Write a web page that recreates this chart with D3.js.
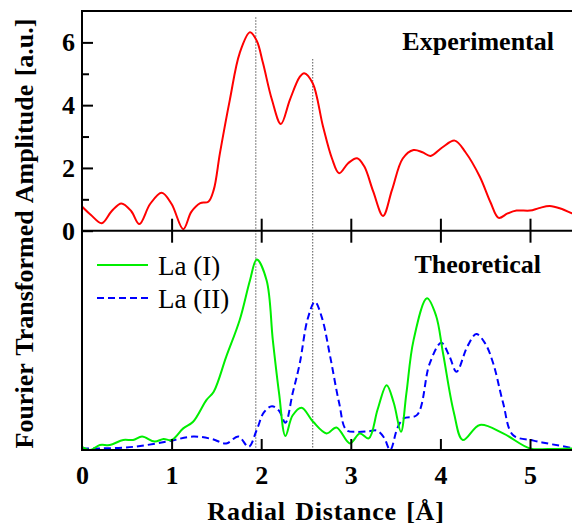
<!DOCTYPE html>
<html><head><meta charset="utf-8">
<script src="https://cdn.jsdelivr.net/npm/d3@7"></script>
<style>
html,body{margin:0;padding:0;background:#fff;}
svg{display:block;font-family:"Liberation Serif","Times New Roman",serif;}
</style></head>
<body>
<svg id="chart" width="572" height="527"></svg>
<script>
// ---- data ----
const xTicks = [0, 1, 2, 3, 4, 5];
const yMajorTicks = [0, 2, 4, 6];
const yMinorTicks = [1, 3, 5];
const referenceLines = [ {r: 1.94, top: 6.8}, {r: 2.575, top: 5.47} ];

const experimental = [
[0,0.77],[0.1,0.5],[0.22,0.24],[0.33,0.62],[0.44,0.87],[0.55,0.62],[0.64,0.21],[0.76,0.85],[0.89,1.21],[1.0,0.85],[1.13,0.05],[1.22,0.6],[1.32,0.88],[1.41,0.92],[1.47,1.3],[1.54,2.48],[1.65,4.17],[1.76,5.66],[1.875,6.32],[1.95,6.05],[2.02,5.34],[2.12,4.17],[2.22,3.40],[2.32,4.17],[2.43,4.9],[2.48,5.02],[2.575,4.7],[2.69,3.32],[2.79,2.3],[2.87,1.83],[2.97,2.15],[3.07,2.31],[3.15,2.05],[3.25,1.25],[3.36,0.47],[3.46,1.3],[3.58,2.3],[3.70,2.57],[3.80,2.5],[3.89,2.38],[4.02,2.65],[4.16,2.87],[4.28,2.5],[4.44,1.72],[4.56,0.9],[4.65,0.41],[4.75,0.55],[4.85,0.64],[5.0,0.64],[5.1,0.72],[5.22,0.79],[5.35,0.7],[5.47,0.55],[5.5,0.52]
];
const laI = [
[0,0.1],[0.09,0.0],[0.2,0.16],[0.31,0.16],[0.46,0.32],[0.57,0.32],[0.67,0.43],[0.81,0.27],[0.91,0.35],[1.0,0.32],[1.13,0.69],[1.24,0.9],[1.39,1.6],[1.47,1.86],[1.61,2.98],[1.76,4.15],[1.875,5.42],[1.95,6.08],[2.06,5.42],[2.13,3.5],[2.2,1.8],[2.27,0.45],[2.35,1.1],[2.45,1.35],[2.58,0.9],[2.73,0.53],[2.84,0.72],[2.99,0.21],[3.1,0.53],[3.2,0.37],[3.3,1.3],[3.40,2.07],[3.48,1.5],[3.56,0.58],[3.62,1.8],[3.70,3.5],[3.85,4.84],[3.95,4.3],[4.03,3.08],[4.15,1.2],[4.25,0.32],[4.44,0.8],[4.70,0.53],[5.0,0.05],[5.2,0.03],[5.5,0.05]
];
const laII = [
[0,0.05],[0.2,0.05],[0.57,0.1],[0.95,0.27],[1.24,0.43],[1.45,0.35],[1.61,0.21],[1.745,0.43],[1.86,0.1],[1.95,0.64],[2.03,1.2],[2.12,1.40],[2.2,1.25],[2.27,0.87],[2.35,1.8],[2.43,2.76],[2.52,4.2],[2.6,4.73],[2.68,4.2],[2.77,2.98],[2.87,1.5],[2.95,0.64],[3.07,0.58],[3.2,0.6],[3.29,0.62],[3.37,0.4],[3.44,0.0],[3.52,0.7],[3.59,1.01],[3.74,1.12],[3.88,2.76],[4.01,3.42],[4.1,3.0],[4.18,2.5],[4.3,3.3],[4.4,3.7],[4.5,3.4],[4.59,2.76],[4.7,1.5],[4.81,0.48],[5.04,0.3],[5.25,0.18],[5.5,0.05]
];

// ---- layout ----
const svg = d3.select("#chart");
const left = 82, right = 574.8, top1 = 11, mid = 230.7, bot = 450;
const x = d3.scaleLinear().domain([0, 5.5]).range([left, right]);
const yTop = d3.scaleLinear().domain([0, 7]).range([mid, top1]);
const yBot = d3.scaleLinear().domain([0, 7]).range([bot, mid]);

const defs = svg.append("defs");
defs.append("clipPath").attr("id","c1").append("rect").attr("x",left).attr("y",top1).attr("width",right-left).attr("height",mid-top1);
defs.append("clipPath").attr("id","c2").append("rect").attr("x",left).attr("y",mid).attr("width",right-left).attr("height",bot-mid);

// reference dotted lines
svg.append("g").selectAll("line").data(referenceLines).join("line")
  .attr("x1", d => x(d.r)).attr("x2", d => x(d.r))
  .attr("y1", d => yTop(d.top)).attr("y2", bot)
  .attr("stroke", "#555").attr("stroke-width", 1).attr("stroke-dasharray", "1.5,1.5");

const curve = d3.curveCatmullRom.alpha(0.5);
const lineTop = d3.line().x(d => x(d[0])).y(d => yTop(d[1])).curve(curve);
const lineBot = d3.line().x(d => x(d[0])).y(d => yBot(d[1])).curve(curve);

svg.append("path").attr("clip-path","url(#c1)").attr("d", lineTop(experimental))
  .attr("fill","none").attr("stroke","#ff0000").attr("stroke-width",2);
svg.append("path").attr("clip-path","url(#c2)").attr("d", lineBot(laII))
  .attr("fill","none").attr("stroke","#0000ff").attr("stroke-width",2).attr("stroke-dasharray","7,4");
svg.append("path").attr("clip-path","url(#c2)").attr("d", lineBot(laI))
  .attr("fill","none").attr("stroke","#00ee00").attr("stroke-width",2);

// frame
const frame = svg.append("g").attr("stroke","#000").attr("stroke-width",2).attr("fill","none");
frame.append("rect").attr("x",left).attr("y",top1).attr("width",right-left).attr("height",bot-top1);
frame.append("line").attr("x1",left).attr("x2",right).attr("y1",mid).attr("y2",mid);

// y axis (top panel)
const yAx = svg.append("g").attr("transform",`translate(${left},0)`)
  .call(d3.axisLeft(yTop).tickValues(yMajorTicks).tickSize(-11).tickPadding(7).tickFormat(d3.format("d")));
const yAxMinor = svg.append("g").attr("transform",`translate(${left},0)`)
  .call(d3.axisLeft(yTop).tickValues(yMinorTicks).tickSize(-7).tickFormat(""));

// bottom x axis
const xAx = svg.append("g").attr("transform",`translate(0,${bot})`)
  .call(d3.axisBottom(x).tickValues(xTicks).tickSize(-11).tickPadding(16).tickFormat(d3.format("d")));
// middle ticks (crossing)
const xMid = svg.append("g").attr("transform",`translate(0,${mid})`)
  .call(d3.axisBottom(x).tickValues(xTicks.slice(1)).tickSize(-12).tickFormat(""));
xMid.selectAll(".tick line").attr("y2", -12).attr("y1", 12);

[yAx, yAxMinor, xAx, xMid].forEach(g => {
  g.select(".domain").remove();
  g.selectAll(".tick line").attr("stroke","#000").attr("stroke-width",2);
  g.selectAll("text").attr("font-family","Liberation Serif, serif").attr("font-weight","bold")
   .attr("font-size",26).attr("fill","#000");
});
xAx.selectAll(".tick").filter(d => d === 0).select("line").remove();

// titles
svg.append("text").attr("x", 326).attr("y", 520).attr("text-anchor","middle")
  .attr("font-weight","bold").attr("font-size",26).attr("letter-spacing",0.8).attr("word-spacing",2)
  .text("Radial Distance [Å]");
svg.append("text").attr("transform", `translate(33,${(top1+bot)/2+3}) rotate(-90)`).attr("text-anchor","middle")
  .attr("font-weight","bold").attr("font-size",26).attr("word-spacing",2)
  .text("Fourier Transformed Amplitude [a.u.]");
svg.append("text").attr("x", 554).attr("y", 50).attr("text-anchor","end")
  .attr("font-weight","bold").attr("font-size",26).text("Experimental");
svg.append("text").attr("x", 541).attr("y", 273).attr("text-anchor","end")
  .attr("font-weight","bold").attr("font-size",26).text("Theoretical");

// legend
const legend = [
  {label: "La (I)", color: "#00ee00", dash: null, y: 265},
  {label: "La (II)", color: "#0000ff", dash: "7,4", y: 298}
];
const lg = svg.append("g").selectAll("g").data(legend).join("g");
lg.append("line").attr("x1",97).attr("x2",148).attr("y1",d=>d.y).attr("y2",d=>d.y)
  .attr("stroke",d=>d.color).attr("stroke-width",2).attr("stroke-dasharray",d=>d.dash);
lg.append("text").attr("x",158).attr("y",d=>d.y+9.5).attr("font-size",27).text(d=>d.label);
</script>
</body></html>
